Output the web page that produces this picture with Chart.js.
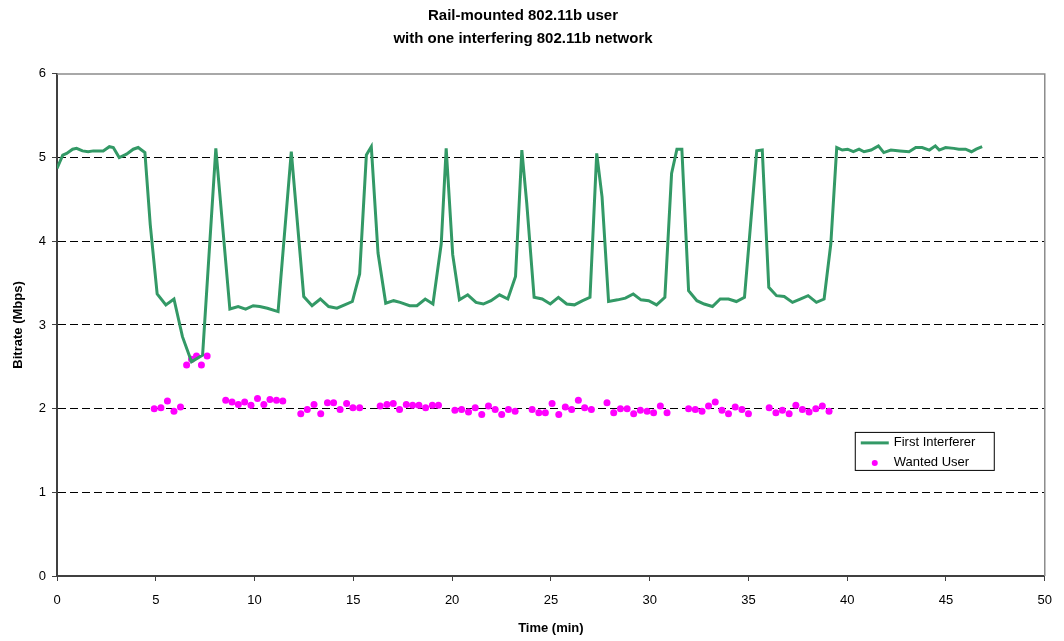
<!DOCTYPE html>
<html>
<head>
<meta charset="utf-8">
<script src="https://cdn.jsdelivr.net/npm/chart.js@4/dist/chart.umd.min.js"></script>
<style>
  body { margin: 0; background: #fff; }
</style>
</head>
<body>
<canvas id="myChart" width="1064" height="641"></canvas>
<script>
'use strict';

// First Interferer: time (min) and bitrate (Mbps)
var interfererTime = [0.00, 0.29, 0.49, 0.79, 0.99, 1.29, 1.58, 1.84, 2.34, 2.65, 2.85, 3.15, 3.52, 3.86, 4.11, 4.45,
  4.72, 5.07, 5.51, 5.92, 6.35, 6.81, 7.37, 8.04, 8.75, 9.17, 9.55, 9.93, 10.26, 10.65, 11.19,
  11.86, 12.49, 12.91, 13.33, 13.75, 14.17, 14.56, 14.95, 15.32, 15.66, 15.91, 16.25, 16.64, 17.04, 17.37,
  17.85, 18.22, 18.64, 19.03, 19.45, 19.70, 20.03, 20.37, 20.79, 21.21, 21.58, 21.97, 22.40, 22.82, 23.21,
  23.53, 23.78, 24.15, 24.56, 24.97, 25.38, 25.80, 26.19, 26.61, 26.98, 27.32, 27.59, 27.92, 28.38, 28.77,
  29.17, 29.56, 29.95, 30.35, 30.77, 31.11, 31.38, 31.63, 31.97, 32.39, 32.76, 33.18, 33.57, 33.99, 34.39,
  34.80, 35.42, 35.70, 36.03, 36.42, 36.81, 37.23, 37.62, 38.02, 38.44, 38.83, 39.17, 39.47, 39.75, 40.02,
  40.31, 40.60, 40.85, 41.21, 41.58, 41.85, 42.21, 42.67, 43.13, 43.47, 43.79, 44.16, 44.46, 44.66, 44.98,
  45.40, 45.65, 45.99, 46.29, 46.53, 46.83];
var interfererRate = [4.87, 5.03, 5.05, 5.10, 5.11, 5.08, 5.07, 5.08, 5.08, 5.13, 5.12, 5.00, 5.04, 5.10, 5.12, 5.06,
  4.20, 3.37, 3.24, 3.31, 2.86, 2.56, 2.64, 5.11, 3.19, 3.22, 3.19, 3.23, 3.22, 3.20, 3.16,
  5.07, 3.34, 3.23, 3.31, 3.22, 3.20, 3.24, 3.28, 3.61, 5.03, 5.13, 3.86, 3.26, 3.29, 3.27,
  3.23, 3.23, 3.31, 3.25, 3.97, 5.11, 3.84, 3.30, 3.36, 3.27, 3.25, 3.29, 3.36, 3.31, 3.58,
  5.09, 4.45, 3.33, 3.31, 3.25, 3.33, 3.25, 3.24, 3.29, 3.33, 5.05, 4.53, 3.28, 3.30, 3.32,
  3.37, 3.30, 3.29, 3.24, 3.33, 4.81, 5.10, 5.10, 3.41, 3.29, 3.25, 3.22, 3.31, 3.31, 3.28,
  3.33, 5.08, 5.09, 3.45, 3.35, 3.34, 3.27, 3.31, 3.35, 3.27, 3.31, 3.97, 5.12, 5.09, 5.10,
  5.07, 5.10, 5.07, 5.09, 5.14, 5.06, 5.09, 5.08, 5.07, 5.12, 5.12, 5.09, 5.14, 5.09, 5.12,
  5.11, 5.10, 5.10, 5.07, 5.10, 5.13];

// Wanted User: time (min) and bitrate (Mbps)
var userTime = [4.92, 5.26, 5.59, 5.92, 6.25, 6.56, 6.81, 7.06, 7.31, 7.60, 8.54, 8.86, 9.18, 9.50, 9.82,
  10.15, 10.47, 10.78, 11.11, 11.43, 12.34, 12.67, 13.01, 13.35, 13.69, 14.00, 14.33, 14.66, 14.98, 15.32,
  16.36, 16.70, 17.02, 17.34, 17.68, 18.00, 18.32, 18.66, 19.00, 19.31, 20.14, 20.48, 20.83, 21.17, 21.50,
  21.84, 22.18, 22.51, 22.85, 23.19, 24.05, 24.39, 24.72, 25.06, 25.40, 25.73, 26.05, 26.39, 26.71, 27.05,
  27.84, 28.18, 28.52, 28.86, 29.19, 29.53, 29.87, 30.20, 30.54, 30.88, 31.97, 32.31, 32.65, 32.98, 33.32,
  33.66, 33.99, 34.33, 34.67, 35.00, 36.05, 36.39, 36.72, 37.06, 37.40, 37.73, 38.07, 38.41, 38.74, 39.08];
var userRate = [2.00, 2.01, 2.09, 1.97, 2.02, 2.52, 2.59, 2.63, 2.52, 2.63, 2.10, 2.08, 2.05, 2.08, 2.04,
  2.12, 2.05, 2.11, 2.10, 2.09, 1.94, 1.99, 2.05, 1.94, 2.07, 2.07, 1.99, 2.06, 2.01, 2.01,
  2.03, 2.05, 2.06, 1.99, 2.05, 2.04, 2.04, 2.01, 2.04, 2.04, 1.98, 1.99, 1.96, 2.01, 1.93,
  2.03, 1.99, 1.93, 1.99, 1.97, 1.99, 1.95, 1.95, 2.06, 1.93, 2.02, 1.99, 2.10, 2.01, 1.99,
  2.07, 1.95, 2.00, 2.00, 1.94, 1.98, 1.97, 1.95, 2.03, 1.95, 2.00, 1.99, 1.97, 2.03, 2.08,
  1.98, 1.94, 2.02, 1.99, 1.94, 2.01, 1.95, 1.98, 1.94, 2.04, 1.99, 1.96, 2.00, 2.03, 1.97];

var titleLines = ['Rail-mounted 802.11b user', 'with one interfering 802.11b network'];
var seriesNames = ['First Interferer', 'Wanted User'];

function toPoints(xs, ys) {
  var pts = [];
  for (var i = 0; i < xs.length; i++) {
    pts.push({x: xs[i], y: ys[i]});
  }
  return pts;
}

Chart.defaults.font.family = "'Liberation Sans', Arial, sans-serif";
Chart.defaults.color = '#000';

// top and right edges of the plot box
var frame = {
  id: 'frame',
  beforeDatasetsDraw: function(chart) {
    var a = chart.chartArea;
    var ctx = chart.ctx;
    ctx.save();
    ctx.strokeStyle = '#8c8c8c';
    ctx.lineWidth = 1.5;
    ctx.beginPath();
    ctx.moveTo(a.left, a.top);
    ctx.lineTo(a.right, a.top);
    ctx.lineTo(a.right, a.bottom);
    ctx.stroke();
    ctx.restore();
  }
};

// legend box inside the plot, like the original
var boxLegend = {
  id: 'boxLegend',
  afterDraw: function(chart) {
    var a = chart.chartArea;
    var ctx = chart.ctx;
    var ds = chart.data.datasets;
    var x = a.right - 190, y = a.top + 358;
    ctx.save();
    ctx.fillStyle = '#fff';
    ctx.fillRect(x, y, 139, 38);
    ctx.strokeStyle = '#000';
    ctx.lineWidth = 1;
    ctx.strokeRect(x + 0.5, y + 0.5, 139, 38);

    ctx.strokeStyle = ds[0].borderColor;
    ctx.lineWidth = 3;
    ctx.beginPath();
    ctx.moveTo(x + 6, y + 11);
    ctx.lineTo(x + 34, y + 11);
    ctx.stroke();

    ctx.fillStyle = ds[1].backgroundColor;
    ctx.beginPath();
    ctx.arc(x + 20, y + 31, 3, 0, Math.PI * 2);
    ctx.fill();

    ctx.fillStyle = '#000';
    ctx.font = "13px 'Liberation Sans', Arial, sans-serif";
    ctx.textBaseline = 'middle';
    ctx.fillText(ds[0].label, x + 39, y + 11);
    ctx.fillText(ds[1].label, x + 39, y + 31);
    ctx.restore();
  }
};

var ctx = document.getElementById('myChart').getContext('2d');
var chart = new Chart(ctx, {
  type: 'scatter',
  data: {
    datasets: [{
      label: seriesNames[0],
      data: toPoints(interfererTime, interfererRate),
      showLine: true,
      borderColor: '#339966',
      backgroundColor: '#339966',
      borderWidth: 3,
      pointRadius: 0,
      tension: 0
    }, {
      label: seriesNames[1],
      data: toPoints(userTime, userRate),
      showLine: false,
      backgroundColor: '#ff00ff',
      borderColor: '#ff00ff',
      pointRadius: 3.5,
      pointBorderWidth: 0
    }]
  },
  options: {
    responsive: false,
    animation: false,
    layout: { padding: { left: 0, right: 18, top: 0, bottom: 0 } },
    plugins: {
      legend: { display: false },
      tooltip: { enabled: false },
      title: {
        display: true,
        text: titleLines,
        color: '#000',
        font: { size: 15, weight: 'bold', lineHeight: 1.53 },
        padding: { top: 4, bottom: 24 }
      }
    },
    scales: {
      x: {
        type: 'linear',
        min: 0,
        max: 50,
        ticks: { stepSize: 5, padding: 12, font: { size: 13 }, color: '#000' },
        grid: { drawOnChartArea: false, tickLength: 5, tickColor: '#404040', tickWidth: 1 },
        border: { color: '#404040', width: 2 },
        title: { display: true, text: 'Time (min)', font: { size: 13, weight: 'bold' }, color: '#000', padding: { top: 0, bottom: 5 } },
        afterFit: function(scale) { scale.height = 65; }
      },
      y: {
        min: 0,
        max: 6,
        ticks: { stepSize: 1, padding: 6, font: { size: 13 }, color: '#000' },
        grid: {
          color: function(c) {
            return (c.tick && c.tick.value > 0 && c.tick.value < 6) ? '#000' : 'rgba(0,0,0,0)';
          },
          lineWidth: 1,
          tickLength: 5,
          tickColor: '#404040',
          tickWidth: 1
        },
        border: { color: '#404040', width: 2, dash: [8, 4] },
        title: { display: true, text: 'Bitrate (Mbps)', font: { size: 13, weight: 'bold' }, color: '#000', padding: { top: 11, bottom: 0 } },
        afterFit: function(scale) { scale.width = 57; }
      }
    }
  },
  plugins: [frame, boxLegend]
});
</script>
</body>
</html>
